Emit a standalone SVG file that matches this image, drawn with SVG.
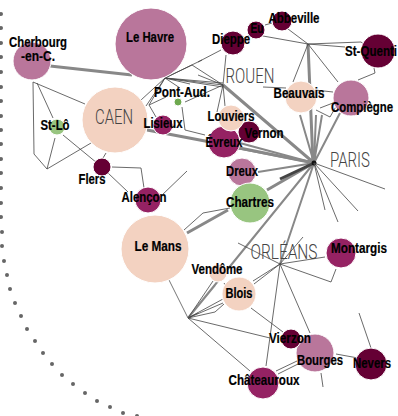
<svg xmlns="http://www.w3.org/2000/svg" width="398" height="416" viewBox="0 0 398 416">
<style>
text{font-family:"Liberation Sans",Arial,sans-serif;text-anchor:middle}
.l{font-size:14px;font-weight:bold;fill:#000;stroke:#000;stroke-width:.2px}
.c{font-family:Roboto,"Liberation Sans",sans-serif;font-weight:300;font-size:20px;fill:#444}
.e{fill:none;stroke:#444;stroke-width:.8}
.t{fill:none;stroke:#888;stroke-width:3}
.m{fill:none;stroke:#888;stroke-width:2}
.n{stroke:#fff;stroke-width:1}
.p{fill:#f3d2c1}.r{fill:#b9769b}.d{fill:#952263}.k{fill:#650034}.g{fill:#98c580}
</style>
<g id="border" fill="#666"><circle cx="1" cy="14" r="2"/><circle cx="1" cy="28" r="2"/><circle cx="1" cy="43" r="2"/><circle cx="1" cy="57" r="2"/><circle cx="1" cy="72" r="2"/><circle cx="1" cy="87" r="2"/><circle cx="1" cy="101" r="2"/><circle cx="1" cy="116" r="2"/><circle cx="1" cy="130" r="2"/><circle cx="1" cy="144" r="2"/><circle cx="1" cy="159" r="2"/><circle cx="1" cy="173" r="2"/><circle cx="1" cy="188" r="2"/><circle cx="1" cy="203" r="2"/><circle cx="1" cy="217" r="2"/><circle cx="2" cy="232" r="2"/><circle cx="2" cy="246" r="2"/><circle cx="4" cy="261" r="2"/><circle cx="7" cy="275" r="2"/><circle cx="10" cy="289" r="2"/><circle cx="15" cy="303" r="2"/><circle cx="21" cy="316" r="2"/><circle cx="27" cy="329" r="2"/><circle cx="35" cy="341" r="2"/><circle cx="43" cy="353" r="2"/><circle cx="52" cy="364" r="2"/><circle cx="62" cy="375" r="2"/><circle cx="73" cy="384" r="2"/><circle cx="85" cy="393" r="2"/><circle cx="97" cy="401" r="2"/><circle cx="110" cy="407" r="2"/><circle cx="123" cy="413" r="2"/><circle cx="137" cy="416" r="2"/></g>
<g id="connectors">
<path class="t" d="M50 66L132 75M147 130L205 141M205 141L314 163M223 85L314 163M187 233L228 210M267 190L312 164M308 44L313 163"/>
<path class="m" d="M236 148L314 163M225 139L314 163M258 172L314 163M300 115L314 163M316 115L314 163M322 115L314 163M340 113L314 163M188 318L314 163M280 264L314 163M188 318L215 285"/>
<path fill="none" stroke="#444" stroke-width="3" d="M280 179L312 164"/>
<circle cx="314" cy="163" r="2.5" fill="#111"/>
<path class="e" d="M33 82L85 104M37 83L53 118M33 82L34 154L47 169L91 143M55 138L47 169M63 135L97 163M106 153L103 158M112 167L141 168L144 188M108 173L128 192M160 197L187 171"/>
<path class="e" d="M141 100L165 78M146 106L165 78M149 105L166 97M165 78L149 105L156 117M165 78L223 85M165 78L223 83M165 78L223 87M165 78L202 60M165 78L192 65L223 85M165 78L190 84M165 78L180 88M185 102L223 85M182 107L185 130L205 135M198 62L221 50M226 55L223 85L225 106M223 85L217 112M198 75L223 85"/>
<path class="e" d="M288 29L308 44M263 36L308 44M308 44L361 42L365 45M308 44L345 47M308 44L293 82M308 44L338 82M250 35L241 40M265 25L272 23M358 80L375 73L374 68M263 87L286 88M315 90L333 92M316 110L330 117L338 103M320 108L333 103"/>
<path class="e" d="M314 163L385 189M314 163L338 222M314 163L325 210M314 163L358 211M238 243L280 264M303 237L280 264M280 264L325 257M280 264L331 282L336 269M253 281L280 264M254 284L280 264M280 264L266 366M280 264L310 333M251 308L283 332"/>
<path class="e" d="M230 208L203 213L184 230M188 318L198 313M188 318L223 299M188 318L223 303M188 318L215 312L224 304M188 318L213 281M188 318L270 338M188 318L250 371M224 283L226 286M276 371L297 361M278 374L298 364M336 354L358 358M321 373L323 387M371 348L359 313"/>
<path fill="none" stroke="#777" stroke-width="1" d="M169 280L188 318"/>
</g>
<g id="LeHavre"><circle class="n r" cx="151" cy="44" r="36"/><text class="l" x="150" y="42" textLength="48" lengthAdjust="spacingAndGlyphs">Le Havre</text></g>
<g id="Cherbourg"><circle class="n r" cx="32" cy="61" r="19"/><text class="l" x="38" y="47" textLength="58" lengthAdjust="spacingAndGlyphs">Cherbourg</text><text class="l" x="38" y="61" textLength="34" lengthAdjust="spacingAndGlyphs">-en-C.</text></g>
<g id="Caen"><circle class="n p" cx="115" cy="120" r="33"/><text class="c" x="114" y="124" textLength="38" lengthAdjust="spacingAndGlyphs">CAEN</text></g>
<g id="StLo"><circle class="n g" cx="57" cy="127" r="8"/><text class="l" x="55" y="130" textLength="29" lengthAdjust="spacingAndGlyphs">St-Lô</text></g>
<g id="PontAud"><circle class="n" fill="#6ea94f" cx="178" cy="102" r="4"/><text class="l" x="182" y="97" textLength="56" lengthAdjust="spacingAndGlyphs">Pont-Aud.</text></g>
<g id="Lisieux"><circle class="n d" cx="163" cy="125" r="10"/><text class="l" x="163" y="128" textLength="39" lengthAdjust="spacingAndGlyphs">Lisieux</text></g>
<g id="Flers"><circle class="n k" cx="102" cy="167" r="9"/><text class="l" x="92" y="184" textLength="27" lengthAdjust="spacingAndGlyphs">Flers</text></g>
<g id="Alencon"><circle class="n d" cx="148" cy="200" r="13"/><text class="l" x="144" y="202" textLength="45" lengthAdjust="spacingAndGlyphs">Alençon</text></g>
<g id="LeMans"><circle class="n p" cx="155" cy="249" r="34"/><text class="l" x="158" y="251" textLength="47" lengthAdjust="spacingAndGlyphs">Le Mans</text></g>
<g id="Abbeville"><circle class="n k" cx="282" cy="21" r="10"/><text class="l" x="294" y="23" textLength="51" lengthAdjust="spacingAndGlyphs">Abbeville</text></g>
<g id="Eu"><circle class="n k" cx="256" cy="30" r="9"/><text class="l" x="257" y="33" textLength="13" lengthAdjust="spacingAndGlyphs">Eu</text></g>
<g id="Dieppe"><circle class="n k" cx="233" cy="43" r="12"/><text class="l" x="231" y="44" textLength="38" lengthAdjust="spacingAndGlyphs">Dieppe</text></g>
<g id="StQuentin"><circle class="n k" cx="378" cy="51" r="17"/><text class="l" x="371" y="56" textLength="52" lengthAdjust="spacingAndGlyphs">St-Quenti</text></g>
<g id="Rouen"><text class="c" x="250" y="83" textLength="49" lengthAdjust="spacingAndGlyphs">ROUEN</text></g>
<g id="Beauvais"><circle class="n p" cx="301" cy="97" r="16"/><text class="l" x="299" y="98" textLength="51" lengthAdjust="spacingAndGlyphs">Beauvais</text></g>
<g id="Compiegne"><circle class="n r" cx="351" cy="98" r="18"/><text class="l" x="362" y="112" textLength="62" lengthAdjust="spacingAndGlyphs">Compiègne</text></g>
<g id="Evreux"><circle class="n d" cx="224" cy="142" r="16"/></g>
<g id="Vernon"><circle class="n k" cx="249" cy="132" r="11"/></g>
<g id="Louviers"><circle class="n p" cx="231" cy="118" r="13"/><text class="l" x="231" y="121" textLength="47" lengthAdjust="spacingAndGlyphs">Louviers</text></g>
<text class="l" x="224" y="147" textLength="37" lengthAdjust="spacingAndGlyphs">Évreux</text>
<text class="l" x="264" y="138" textLength="39" lengthAdjust="spacingAndGlyphs">Vernon</text>
<g id="Paris"><text class="c" x="350" y="167" textLength="40" lengthAdjust="spacingAndGlyphs">PARIS</text></g>
<g id="Dreux"><circle class="n r" cx="242" cy="172" r="14"/><text class="l" x="242" y="176" textLength="32" lengthAdjust="spacingAndGlyphs">Dreux</text></g>
<g id="Chartres"><circle class="n g" cx="250" cy="203" r="20"/><text class="l" x="250" y="207" textLength="48" lengthAdjust="spacingAndGlyphs">Chartres</text></g>
<g id="Orleans"><text class="c" x="284" y="259" textLength="67" lengthAdjust="spacingAndGlyphs">ORLÉANS</text></g>
<g id="Montargis"><circle class="n d" cx="341" cy="253" r="15"/><text class="l" x="359" y="253" textLength="56" lengthAdjust="spacingAndGlyphs">Montargis</text></g>
<g id="Vendome"><circle class="n p" cx="218" cy="273" r="9"/><text class="l" x="217" y="274" textLength="51" lengthAdjust="spacingAndGlyphs">Vendôme</text></g>
<g id="Blois"><circle class="n p" cx="239" cy="294" r="17"/><text class="l" x="239" y="298" textLength="27" lengthAdjust="spacingAndGlyphs">Blois</text></g>
<g id="Bourges"><circle class="n r" cx="315" cy="353" r="19"/><text class="l" x="320" y="365" textLength="46" lengthAdjust="spacingAndGlyphs">Bourges</text></g>
<g id="Vierzon"><circle class="n k" cx="291" cy="339" r="10"/><text class="l" x="290" y="343" textLength="42" lengthAdjust="spacingAndGlyphs">Vierzon</text></g>
<g id="Nevers"><circle class="n k" cx="371" cy="364" r="16"/><text class="l" x="372" y="368" textLength="38" lengthAdjust="spacingAndGlyphs">Nevers</text></g>
<g id="Chateauroux"><circle class="n d" cx="263" cy="383" r="16"/><text class="l" x="264" y="385" textLength="71" lengthAdjust="spacingAndGlyphs">Châteauroux</text></g>
</svg>
